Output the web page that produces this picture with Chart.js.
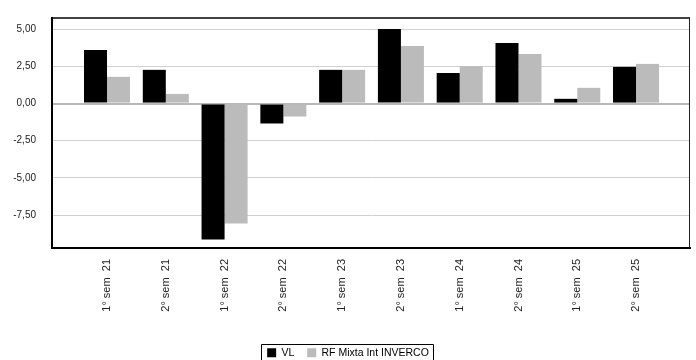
<!DOCTYPE html>
<html>
<head>
<meta charset="utf-8">
<script src="https://cdn.jsdelivr.net/npm/chart.js@4.4.1/dist/chart.umd.min.js"></script>
<style>
  html, body { margin: 0; padding: 0; background: #fff; overflow: hidden; }
  #wrap { width: 696px; height: 360px; overflow: hidden; position: relative; }
  #wrap canvas { position: absolute; left: 0; top: -4px; }
</style>
</head>
<body>
<div id="wrap"><canvas id="chart" width="696" height="372"></canvas></div>
<script>
const categories = ['1° sem  21', '2° sem  21', '1° sem  22', '2° sem  22', '1° sem  23',
                    '2° sem  23', '1° sem  24', '2° sem  24', '1° sem  25', '2° sem  25'];
const vlValues = [3.61, 2.27, -9.15, -1.34, 2.27, 5.02, 2.06, 4.08, 0.32, 2.47];
const invercoValues = [1.80, 0.65, -8.07, -0.87, 2.27, 3.88, 2.51, 3.34, 1.06, 2.67];
const yTicks = [-7.5, -5, -2.5, 0, 2.5, 5];

Chart.defaults.font.family = '"Liberation Sans", Arial, sans-serif';
Chart.defaults.color = '#222';

// frame round the plot and box round the legend
const framePlugin = {
  id: 'frame',
  afterDraw(chart) {
    const ctx = chart.ctx;
    const a = chart.chartArea;
    ctx.save();
    ctx.strokeStyle = '#000';
    ctx.lineWidth = 1.5;
    ctx.beginPath();
    ctx.moveTo(a.left, a.top);
    ctx.lineTo(a.right, a.top);
    ctx.stroke();
    ctx.lineWidth = 1;
    ctx.strokeStyle = '#222';
    ctx.beginPath();
    ctx.moveTo(a.right - 0.5, a.top);
    ctx.lineTo(a.right - 0.5, a.bottom);
    ctx.stroke();

    const boxes = chart.legend.legendHitBoxes;
    if (boxes && boxes.length) {
      const first = boxes[0];
      const last = boxes[boxes.length - 1];
      const left = Math.round(first.left - 6) + 0.5;
      const right = Math.round(last.left + last.width + 4) + 0.5;
      const top = Math.round(first.top - 4) + 0.5;
      ctx.strokeStyle = '#000';
      ctx.beginPath();
      ctx.moveTo(left, chart.height + 2);
      ctx.lineTo(left, top);
      ctx.lineTo(right, top);
      ctx.lineTo(right, chart.height + 2);
      ctx.stroke();
    }
    ctx.restore();
  }
};

new Chart(document.getElementById('chart'), {
  type: 'bar',
  data: {
    datasets: [{
      label: 'VL',
      data: vlValues.map((v, i) => ({ x: i, y: v })),
      backgroundColor: '#000000',
      borderWidth: 0,
      categoryPercentage: 0.783,
      barPercentage: 1.0
    }, {
      label: 'RF Mixta Int INVERCO',
      data: invercoValues.map((v, i) => ({ x: i, y: v })),
      backgroundColor: '#bbbbbb',
      borderWidth: 0,
      categoryPercentage: 0.783,
      barPercentage: 1.0
    }]
  },
  options: {
    responsive: false,
    animation: false,
    devicePixelRatio: 1,
    layout: { autoPadding: false, padding: { top: 13, right: 6, left: 6, bottom: 0 } },
    plugins: {
      tooltip: { enabled: false },
      legend: {
        position: 'bottom',
        labels: {
          boxWidth: 9,
          boxHeight: 9,
          padding: 13,
          color: '#000',
          font: { size: 10.5 }
        }
      }
    },
    scales: {
      x: {
        type: 'linear',
        offset: false,
        min: -0.936,
        max: 9.918,
        afterBuildTicks: scale => { scale.ticks = categories.map((c, i) => ({ value: i })); },
        afterFit: scale => { scale.height = 86.5; },
        ticks: {
          autoSkip: false,
          minRotation: 90,
          maxRotation: 90,
          padding: 11,
          font: { size: 11 },
          callback: value => categories[value]
        },
        grid: { drawOnChartArea: false, drawTicks: false },
        border: { color: '#000', width: 2 }
      },
      y: {
        min: -9.72,
        max: 5.76,
        afterBuildTicks: scale => { scale.ticks = yTicks.map(v => ({ value: v })); },
        afterFit: scale => { scale.width = 46; },
        ticks: {
          padding: 16,
          font: { size: 10 },
          callback: value => value.toFixed(2).replace('.', ',')
        },
        grid: {
          drawTicks: false,
          color: c => (c.tick && c.tick.value === 0 ? '#b8b8b8' : '#d0d0d0'),
          lineWidth: c => (c.tick && c.tick.value === 0 ? 2 : 1)
        },
        border: { color: '#000', width: 2 }
      }
    }
  },
  plugins: [framePlugin]
});
</script>
</body>
</html>
